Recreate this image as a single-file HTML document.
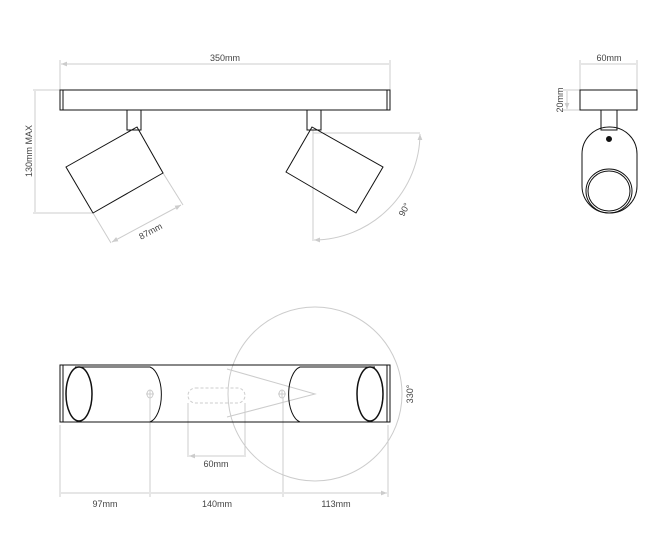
<html><body style="margin:0;background:#fff">
<svg width="670" height="545" viewBox="0 0 670 545" xmlns="http://www.w3.org/2000/svg" font-family="Liberation Sans, sans-serif" font-size="9" fill="none">
<defs><marker id="a" viewBox="0 0 10 10" refX="10" refY="5" markerWidth="6" markerHeight="6" orient="auto-start-reverse"><path d="M0,1 L10,5 L0,9z" fill="#ccc"/></marker></defs>
<g stroke="#ccc" stroke-width="1">
<path d="M60,60V90M390,60V90M33,90H60M33,213H92M580,60V90M637,60V90M563,90H580M563,110H580"/>
<path d="M61,64H389M35,91V212M581,64H636M567,91V109" marker-start="url(#a)" marker-end="url(#a)"/>
<path d="M93,213L111,243M163,173L183,205"/>
<path d="M112,242L181,205" marker-start="url(#a)" marker-end="url(#a)"/>
<path d="M313,130V241M313,133H420"/>
<path d="M420,134A107,107 0 0 1 314,240" marker-start="url(#a)" marker-end="url(#a)"/>
<circle cx="315" cy="394" r="87"/>
<path d="M227,369L315,394L227,417"/>
<path d="M188,403V457M245,403V457M60,425V497M150,398V497M283,398V497M388,425V497"/>
<path d="M189,456H244M61,493H149M151,493H282M284,493H387" marker-start="url(#a)" marker-end="url(#a)"/>
<rect x="188" y="388" width="57" height="15" rx="7.5" stroke-dasharray="3,2"/>
<path d="M146,394h8M150,390v8M278,394h8M282,390v8"/>
<ellipse cx="150" cy="394" rx="3" ry="4"/><ellipse cx="282" cy="394" rx="3" ry="4"/>
</g>
<g stroke="#111" stroke-width="1">
<rect x="60" y="90" width="330" height="20"/><path d="M63,90V110M387,90V110"/>
<rect x="127" y="110" width="14" height="20"/><rect x="307" y="110" width="14" height="20"/>
<path d="M66,167L137,127L163,173L93,213Z"/>
<path d="M286,172L312,127L383,167L356,213Z"/>
<rect x="60" y="365" width="330" height="57"/><path d="M63,365V422M387,365V422"/>
<path d="M75,367H150A14,28 0 0 1 150,422H75"/>
<ellipse cx="79" cy="394" rx="13" ry="27" stroke-width="1.5"/>
<path d="M375,367H300A14,28 0 0 0 300,422H375"/>
<ellipse cx="370" cy="394" rx="13" ry="27" stroke-width="1.5"/>
<rect x="580" y="90" width="57" height="20"/>
<rect x="601" y="110" width="16" height="20"/>
<rect x="582" y="127" width="55" height="86" rx="27"/>
<ellipse cx="609" cy="191" rx="23" ry="22"/>
<ellipse cx="609" cy="191" rx="21" ry="20"/>
<circle cx="609" cy="139" r="2.5" fill="#111"/>
</g>
<g fill="#444" stroke="none" text-anchor="middle">
<text x="225" y="61">350mm</text>
<text x="609" y="61">60mm</text>
<text transform="translate(32,151) rotate(-90)">130mm MAX</text>
<text transform="translate(563,100) rotate(-90)">20mm</text>
<text transform="translate(152,234) rotate(-28)">87mm</text>
<text transform="translate(407,211) rotate(-62)">90°</text>
<text transform="translate(413,394) rotate(-90)">330°</text>
<text x="216" y="467">60mm</text>
<text x="105" y="507">97mm</text>
<text x="217" y="507">140mm</text>
<text x="336" y="507">113mm</text>
</g>
</svg>
</body></html>
